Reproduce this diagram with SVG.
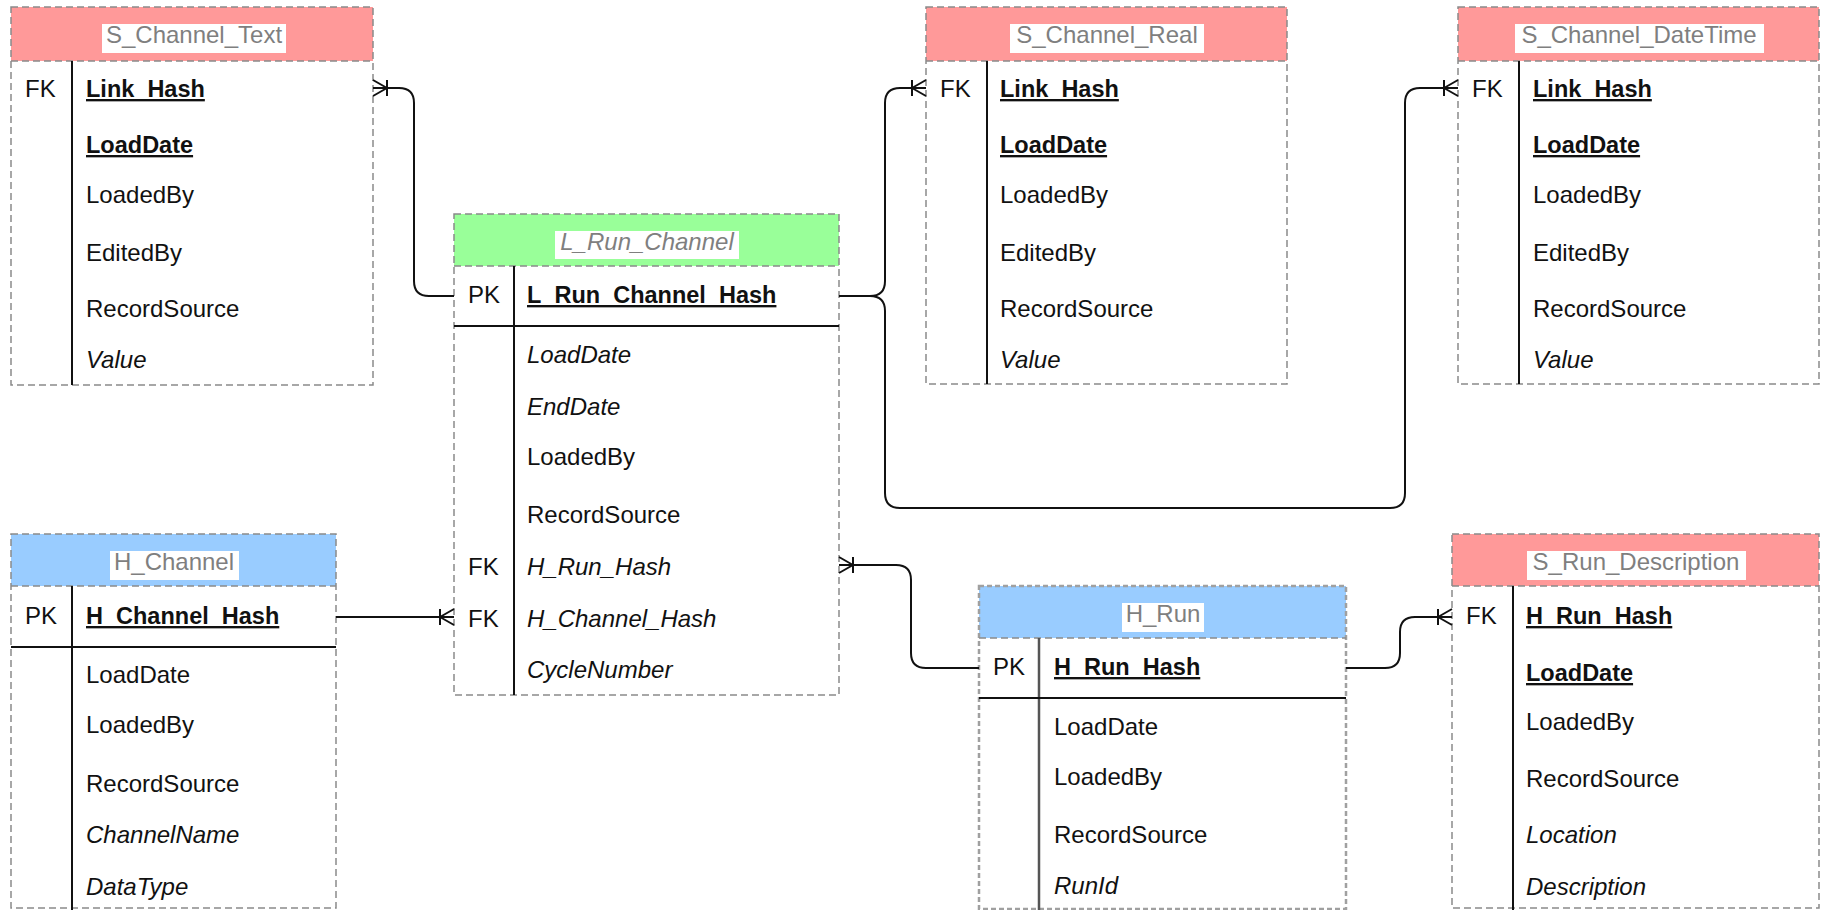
<svg xmlns="http://www.w3.org/2000/svg" width="1824" height="910" viewBox="0 0 1824 910">
  <style>
    .body { fill: #ffffff; }
    .outline { fill: none; stroke: #8a8a8a; stroke-width: 1.5; stroke-dasharray: 7 4; }
    .sat { fill: #ff9999; }
    .lnk { fill: #99ff99; }
    .hub { fill: #99ccff; }
    .tbg { fill: #ffffff; }
    .title { font-family: "Liberation Sans", Arial, sans-serif; font-size: 24px; fill: #7f7f7f; text-anchor: middle; }
    .ti { font-style: italic; }
    .f { font-family: "Liberation Sans", Arial, sans-serif; font-size: 24px; fill: #111111; }
    .key { font-weight: bold; font-size: 23.5px; text-decoration: underline; }
    .it { font-style: italic; }
    .col { stroke: #111111; stroke-width: 2; }
    .sep { stroke: #111111; stroke-width: 2; }
    .conn { fill: none; stroke: #111111; stroke-width: 2; marker-end: url(#oneMany); }
  </style>
  <defs>
    <marker id="oneMany" viewBox="-16 -10 18 20" refX="0" refY="0" markerWidth="18" markerHeight="20" markerUnits="userSpaceOnUse" orient="auto">
      <path d="M-14 -8V8M-14 0L0 -8M-14 0L0 8" fill="none" stroke="#111111" stroke-width="2"/>
    </marker>
  </defs>

  <rect width="1824" height="910" fill="#ffffff"/>

  <!-- satellite: S_Channel_Text -->
  <g id="S_Channel_Text">
    <rect class="body" x="11" y="7" width="362" height="378"/>
    <rect class="sat" x="11" y="7" width="362" height="54"/>
    <rect class="outline" x="11" y="7" width="362" height="378"/>
    <line class="outline" x1="11" y1="61" x2="373" y2="61"/>
    <rect class="tbg" x="102" y="24" width="184" height="29"/>
    <text class="title" x="194" y="43">S_Channel_Text</text>
    <line class="col" x1="72" y1="61" x2="72" y2="385"/>
    <text class="f" x="25" y="97">FK</text>
    <text class="f key" x="86" y="97">Link_Hash</text>
    <text class="f key" x="86" y="153">LoadDate</text>
    <text class="f" x="86" y="203">LoadedBy</text>
    <text class="f" x="86" y="261">EditedBy</text>
    <text class="f" x="86" y="317">RecordSource</text>
    <text class="f it" x="86" y="368">Value</text>
  </g>

  <!-- satellite: S_Channel_Real -->
  <g id="S_Channel_Real">
    <rect class="body" x="926" y="7" width="361" height="377"/>
    <rect class="sat" x="926" y="7" width="361" height="54"/>
    <rect class="outline" x="926" y="7" width="361" height="377"/>
    <line class="outline" x1="926" y1="61" x2="1287" y2="61"/>
    <rect class="tbg" x="1010" y="24" width="194" height="29"/>
    <text class="title" x="1107" y="43">S_Channel_Real</text>
    <line class="col" x1="987" y1="61" x2="987" y2="384"/>
    <text class="f" x="940" y="97">FK</text>
    <text class="f key" x="1000" y="97">Link_Hash</text>
    <text class="f key" x="1000" y="153">LoadDate</text>
    <text class="f" x="1000" y="203">LoadedBy</text>
    <text class="f" x="1000" y="261">EditedBy</text>
    <text class="f" x="1000" y="317">RecordSource</text>
    <text class="f it" x="1000" y="368">Value</text>
  </g>

  <!-- satellite: S_Channel_DateTime -->
  <g id="S_Channel_DateTime">
    <rect class="body" x="1458" y="7" width="361" height="377"/>
    <rect class="sat" x="1458" y="7" width="361" height="54"/>
    <rect class="outline" x="1458" y="7" width="361" height="377"/>
    <line class="outline" x1="1458" y1="61" x2="1819" y2="61"/>
    <rect class="tbg" x="1515" y="24" width="249" height="29"/>
    <text class="title" x="1639" y="43">S_Channel_DateTime</text>
    <line class="col" x1="1519" y1="61" x2="1519" y2="384"/>
    <text class="f" x="1472" y="97">FK</text>
    <text class="f key" x="1533" y="97">Link_Hash</text>
    <text class="f key" x="1533" y="153">LoadDate</text>
    <text class="f" x="1533" y="203">LoadedBy</text>
    <text class="f" x="1533" y="261">EditedBy</text>
    <text class="f" x="1533" y="317">RecordSource</text>
    <text class="f it" x="1533" y="368">Value</text>
  </g>

  <!-- link: L_Run_Channel -->
  <g id="L_Run_Channel">
    <rect class="body" x="454" y="214" width="385" height="481"/>
    <rect class="lnk" x="454" y="214" width="385" height="52"/>
    <rect class="outline" x="454" y="214" width="385" height="481"/>
    <line class="outline" x1="454" y1="266" x2="839" y2="266"/>
    <rect class="tbg" x="555" y="231" width="184" height="28"/>
    <text class="title ti" x="647" y="250">L_Run_Channel</text>
    <line class="col" x1="514" y1="266" x2="514" y2="695"/>
    <line class="sep" x1="454" y1="326" x2="839" y2="326"/>
    <text class="f" x="468" y="303">PK</text>
    <text class="f key" x="527" y="303">L_Run_Channel_Hash</text>
    <text class="f it" x="527" y="363">LoadDate</text>
    <text class="f it" x="527" y="415">EndDate</text>
    <text class="f" x="527" y="465">LoadedBy</text>
    <text class="f" x="527" y="523">RecordSource</text>
    <text class="f" x="468" y="575">FK</text>
    <text class="f it" x="527" y="575">H_Run_Hash</text>
    <text class="f" x="468" y="627">FK</text>
    <text class="f it" x="527" y="627">H_Channel_Hash</text>
    <text class="f it" x="527" y="678">CycleNumber</text>
  </g>

  <!-- hub: H_Channel -->
  <g id="H_Channel">
    <rect class="body" x="11" y="534" width="325" height="374"/>
    <rect class="hub" x="11" y="534" width="325" height="52"/>
    <rect class="outline" x="11" y="534" width="325" height="374"/>
    <line class="outline" x1="11" y1="586" x2="336" y2="586"/>
    <rect class="tbg" x="110" y="551" width="129" height="29"/>
    <text class="title" x="174" y="570">H_Channel</text>
    <line class="col" x1="72" y1="586" x2="72" y2="910"/>
    <line class="sep" x1="11" y1="647" x2="336" y2="647"/>
    <text class="f" x="25" y="624">PK</text>
    <text class="f key" x="86" y="624">H_Channel_Hash</text>
    <text class="f" x="86" y="683">LoadDate</text>
    <text class="f" x="86" y="733">LoadedBy</text>
    <text class="f" x="86" y="792">RecordSource</text>
    <text class="f it" x="86" y="843">ChannelName</text>
    <text class="f it" x="86" y="895">DataType</text>
  </g>

  <!-- hub: H_Run -->
  <g id="H_Run">
    <rect class="body" x="979" y="586" width="367" height="323"/>
    <rect class="hub" x="979" y="586" width="367" height="52"/>
    <rect class="outline" x="979" y="586" width="367" height="323" style="stroke:#a0a0a0;stroke-width:2.5;stroke-dasharray:5 3"/>
    <line class="outline" x1="979" y1="638" x2="1346" y2="638"/>
    <rect class="tbg" x="1122" y="603" width="82" height="29"/>
    <text class="title" x="1163" y="622">H_Run</text>
    <line class="col" x1="1039" y1="638" x2="1039" y2="910" style="stroke:#555555;stroke-width:2.5"/>
    <line class="sep" x1="979" y1="698" x2="1346" y2="698"/>
    <text class="f" x="993" y="675">PK</text>
    <text class="f key" x="1054" y="675">H_Run_Hash</text>
    <text class="f" x="1054" y="735">LoadDate</text>
    <text class="f" x="1054" y="785">LoadedBy</text>
    <text class="f" x="1054" y="843">RecordSource</text>
    <text class="f it" x="1054" y="894">RunId</text>
  </g>

  <!-- satellite: S_Run_Description -->
  <g id="S_Run_Description">
    <rect class="body" x="1452" y="534" width="367" height="374"/>
    <rect class="sat" x="1452" y="534" width="367" height="52"/>
    <rect class="outline" x="1452" y="534" width="367" height="374"/>
    <line class="outline" x1="1452" y1="586" x2="1819" y2="586"/>
    <rect class="tbg" x="1527" y="551" width="219" height="29"/>
    <text class="title" x="1636" y="570">S_Run_Description</text>
    <line class="col" x1="1513" y1="586" x2="1513" y2="910"/>
    <text class="f" x="1466" y="624">FK</text>
    <text class="f key" x="1526" y="624">H_Run_Hash</text>
    <text class="f key" x="1526" y="681">LoadDate</text>
    <text class="f" x="1526" y="730">LoadedBy</text>
    <text class="f" x="1526" y="787">RecordSource</text>
    <text class="f it" x="1526" y="843">Location</text>
    <text class="f it" x="1526" y="895">Description</text>
  </g>

  <!-- relationships (one-to-many, crow's foot at the many side) -->
  <g id="connectors">
    <path class="conn" d="M454 296H429Q414 296 414 281V103Q414 88 399 88H373"/>
    <path class="conn" d="M839 296H870Q885 296 885 281V103Q885 88 900 88H926"/>
    <path class="conn" d="M839 296H870Q885 296 885 311V493Q885 508 900 508H1390Q1405 508 1405 493V103Q1405 88 1420 88H1458"/>
    <path class="conn" d="M336 617H454"/>
    <path class="conn" d="M979 668H926Q911 668 911 653V580Q911 565 896 565H839"/>
    <path class="conn" d="M1346 668H1385Q1400 668 1400 653V632Q1400 617 1415 617H1452"/>
  </g>
</svg>
